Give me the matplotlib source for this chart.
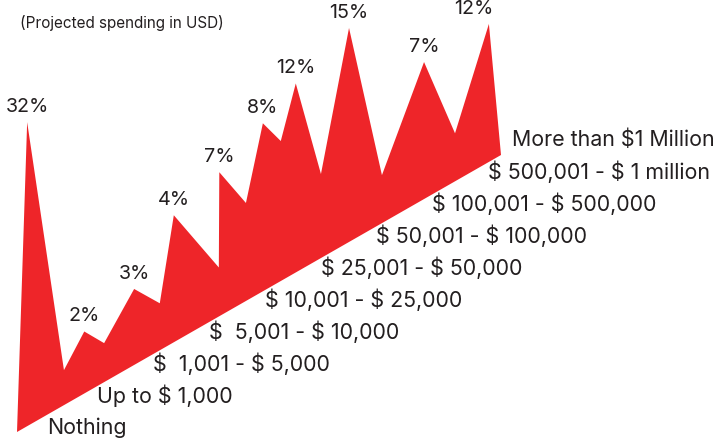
import matplotlib
matplotlib.use("Agg")
import matplotlib.pyplot as plt
import matplotlib.transforms as mtransforms
import numpy as np

plt.rcParams["text.parse_math"] = False

# spending brackets and share of respondents
categories = ["Nothing", "Up to $ 1,000", "$  1,001 - $ 5,000", "$  5,001 - $ 10,000",
              "$ 10,001 - $ 25,000", "$ 25,001 - $ 50,000", "$ 50,001 - $ 100,000",
              "$ 100,001 - $ 500,000", "$ 500,001 - $ 1 million", "More than $1 Million"]
shares = [32, 2, 3, 4, 7, 8, 12, 15, 7, 12]

# ridge of the "mountain" read off the artwork: position along the floor (0..1)
# and height above the floor
peak_pos = [0.021, 0.139, 0.242, 0.324, 0.418, 0.508, 0.576, 0.686, 0.841, 0.975]
peak_height = [304, 62, 76, 127, 144, 168, 189, 214, 137, 138]
valley_pos = [0.097, 0.180, 0.295, 0.417, 0.473, 0.545, 0.628, 0.754, 0.905]
valley_height = [35, 39, 47, 49, 98, 140, 84, 48, 48]

red = "#ee2529"
ink = "#231f20"
font = "Inter"

W, H = 717, 443
fig = plt.figure(figsize=(W / 100, H / 100), dpi=100)
ax = fig.add_axes([0, 0, 1, 1])
ax.set_xlim(0, W)
ax.set_ylim(H, 0)
ax.axis("off")

# floor runs from bottom-left to upper-right; (u, h) -> canvas
x0, y0, x1, y1 = 17, 432, 501, 155
floor = mtransforms.Affine2D(np.array([[x1 - x0, 0, x0],
                                       [y1 - y0, -1, y0],
                                       [0, 0, 1]]))
tr = floor + ax.transData

u = [0.0]
h = [0.0]
for i in range(len(shares)):
    u.append(peak_pos[i])
    h.append(peak_height[i])
    if i < len(valley_pos):
        u.append(valley_pos[i])
        h.append(valley_height[i])
u.append(1.0)
h.append(0.0)
ax.fill(u, h, color=red, lw=0, transform=tr)

n = len(categories)
for i, (p, ph, s) in enumerate(zip(peak_pos, peak_height, shares)):
    dx = -15 if i == n - 1 else 0
    ax.annotate(f"{s}%", (p, ph), xycoords=tr, xytext=(dx, 6),
                textcoords="offset pixels", ha="center", va="bottom",
                fontsize=14.2, color=ink, family=font)

# bracket labels sit just right of the floor, evenly stepped
step = 32 / (y0 - y1)
for i, lab in enumerate(categories):
    ui = 4 / (y0 - y1) + step * i
    dx = -15 if i == n - 1 else 17
    if i == 0:
        dx = 23
    ax.annotate(lab, (ui, 0), xycoords=tr, xytext=(dx, 0),
                textcoords="offset pixels", ha="left", va="center",
                fontsize=15.4, color=ink, family=font)

ax.text(20, 23, "(Projected spending in USD)", ha="left", va="center",
        fontsize=11, color=ink, family=font)

fig.savefig("out.png", dpi=100)
